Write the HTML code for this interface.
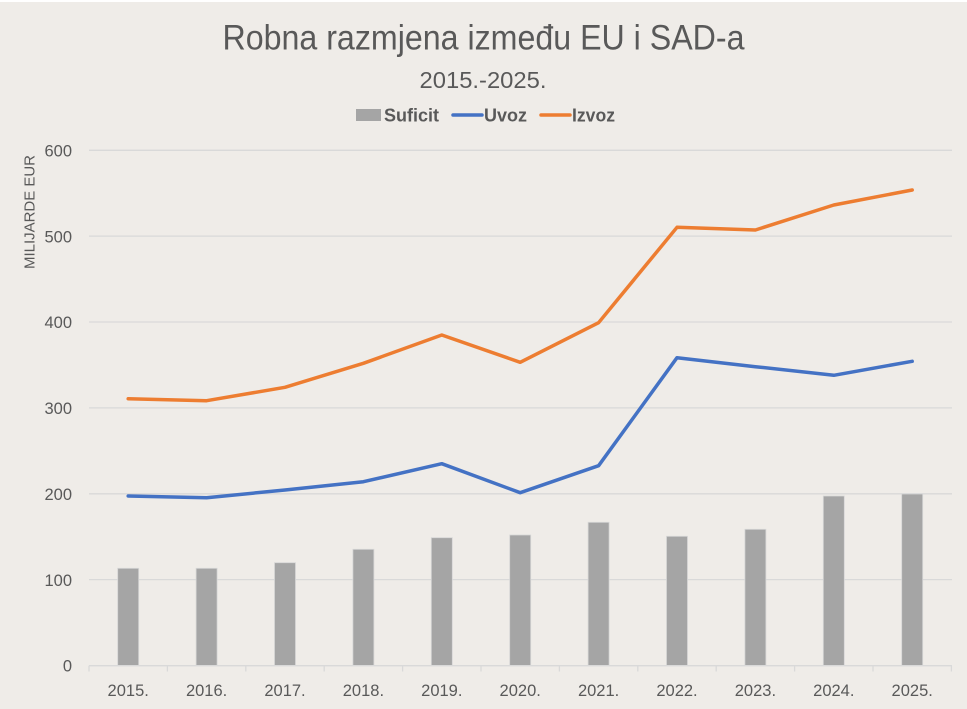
<!DOCTYPE html>
<html>
<head>
<meta charset="utf-8">
<style>
  html,body{margin:0;padding:0;background:#EFECE8;}
  svg{display:block;}
  text{font-family:"Liberation Sans", sans-serif;}
</style>
</head>
<body>
<svg width="967" height="709" viewBox="0 0 967 709" xmlns="http://www.w3.org/2000/svg">
  <rect x="0" y="0" width="967" height="709" fill="#EFECE8"/>
  <rect x="0" y="0" width="967" height="2" fill="#FFFFFF"/>

  <!-- Title -->
  <text x="483.5" y="49.5" text-anchor="middle" font-size="35" fill="#595959" textLength="522" lengthAdjust="spacingAndGlyphs">Robna razmjena između EU i SAD-a</text>
  <text x="483" y="88" text-anchor="middle" font-size="23.5" fill="#595959" textLength="127" lengthAdjust="spacingAndGlyphs">2015.-2025.</text>

  <!-- Legend -->
  <rect x="356" y="109" width="25" height="12" fill="#A5A5A5"/>
  <text x="384" y="121.5" font-size="18" font-weight="bold" fill="#595959" textLength="55" lengthAdjust="spacingAndGlyphs">Suficit</text>
  <line x1="453" y1="115" x2="482" y2="115" stroke="#4472C4" stroke-width="3.5" stroke-linecap="round"/>
  <text x="484" y="121.5" font-size="18" font-weight="bold" fill="#595959" textLength="43" lengthAdjust="spacingAndGlyphs">Uvoz</text>
  <line x1="541" y1="115" x2="570" y2="115" stroke="#ED7D31" stroke-width="3.5" stroke-linecap="round"/>
  <text x="572" y="121.5" font-size="18" font-weight="bold" fill="#595959" textLength="43" lengthAdjust="spacingAndGlyphs">Izvoz</text>

  <!-- Gridlines -->
  <g stroke="#D9D9D9" stroke-width="1.3">
    <line x1="89" y1="150.3" x2="952" y2="150.3"/>
    <line x1="89" y1="236.1" x2="952" y2="236.1"/>
    <line x1="89" y1="322" x2="952" y2="322"/>
    <line x1="89" y1="407.9" x2="952" y2="407.9"/>
    <line x1="89" y1="493.8" x2="952" y2="493.8"/>
    <line x1="89" y1="579.6" x2="952" y2="579.6"/>
  </g>

  <!-- Y axis labels -->
  <g font-size="16.5" fill="#595959" text-anchor="end">
    <text x="72" y="156.5">600</text>
    <text x="72" y="242.3">500</text>
    <text x="72" y="328.2">400</text>
    <text x="72" y="414.1">300</text>
    <text x="72" y="500">200</text>
    <text x="72" y="585.8">100</text>
    <text x="72" y="671.7">0</text>
  </g>
  <text transform="translate(34.5,212) rotate(-90)" text-anchor="middle" font-size="15" fill="#595959" textLength="114" lengthAdjust="spacingAndGlyphs">MILIJARDE EUR</text>

  <!-- Bars -->
  <g fill="#A5A5A5" stroke="#D6D6D6" stroke-width="0.8">
    <rect x="117.7" y="568.3" width="21" height="97.2"/>
    <rect x="196.1" y="568.3" width="21" height="97.2"/>
    <rect x="274.5" y="562.7" width="21" height="102.8"/>
    <rect x="352.9" y="549.3" width="21" height="116.2"/>
    <rect x="431.3" y="537.7" width="21" height="127.8"/>
    <rect x="509.7" y="535" width="21" height="130.5"/>
    <rect x="588.1" y="522.3" width="21" height="143.2"/>
    <rect x="666.5" y="536.3" width="21" height="129.2"/>
    <rect x="744.9" y="529.3" width="21" height="136.2"/>
    <rect x="823.3" y="496" width="21" height="169.5"/>
    <rect x="901.7" y="494" width="21" height="171.5"/>
  </g>

  <!-- X axis -->
  <line x1="89" y1="665.7" x2="952" y2="665.7" stroke="#D9D9D9" stroke-width="1.3"/>
  <g stroke="#D9D9D9" stroke-width="1.3">
    <line x1="89" y1="665.7" x2="89" y2="671.5"/>
    <line x1="167.4" y1="665.7" x2="167.4" y2="671.5"/>
    <line x1="245.8" y1="665.7" x2="245.8" y2="671.5"/>
    <line x1="324.2" y1="665.7" x2="324.2" y2="671.5"/>
    <line x1="402.6" y1="665.7" x2="402.6" y2="671.5"/>
    <line x1="481" y1="665.7" x2="481" y2="671.5"/>
    <line x1="559.4" y1="665.7" x2="559.4" y2="671.5"/>
    <line x1="637.8" y1="665.7" x2="637.8" y2="671.5"/>
    <line x1="716.2" y1="665.7" x2="716.2" y2="671.5"/>
    <line x1="794.6" y1="665.7" x2="794.6" y2="671.5"/>
    <line x1="873" y1="665.7" x2="873" y2="671.5"/>
    <line x1="951.4" y1="665.7" x2="951.4" y2="671.5"/>
  </g>
  <g font-size="16.5" fill="#595959" text-anchor="middle">
    <text x="128.2" y="696">2015.</text>
    <text x="206.6" y="696">2016.</text>
    <text x="285" y="696">2017.</text>
    <text x="363.4" y="696">2018.</text>
    <text x="441.8" y="696">2019.</text>
    <text x="520.2" y="696">2020.</text>
    <text x="598.6" y="696">2021.</text>
    <text x="677" y="696">2022.</text>
    <text x="755.4" y="696">2023.</text>
    <text x="833.8" y="696">2024.</text>
    <text x="912.2" y="696">2025.</text>
  </g>

  <!-- Lines -->
  <polyline fill="none" stroke="#4472C4" stroke-width="3.5" stroke-linejoin="round" stroke-linecap="round"
    points="128.2,496 206.6,497.7 285,490 363.4,481.7 441.8,463.7 520.2,492.7 598.6,465.7 677,357.7 755.4,366.7 833.8,375.3 912.2,361.3"/>
  <polyline fill="none" stroke="#ED7D31" stroke-width="3.5" stroke-linejoin="round" stroke-linecap="round"
    points="128.2,398.7 206.6,400.7 285,387.3 363.4,363.3 441.8,335 520.2,362.3 598.6,322.7 677,227.3 755.4,230 833.8,205 912.2,190"/>
</svg>
</body>
</html>
